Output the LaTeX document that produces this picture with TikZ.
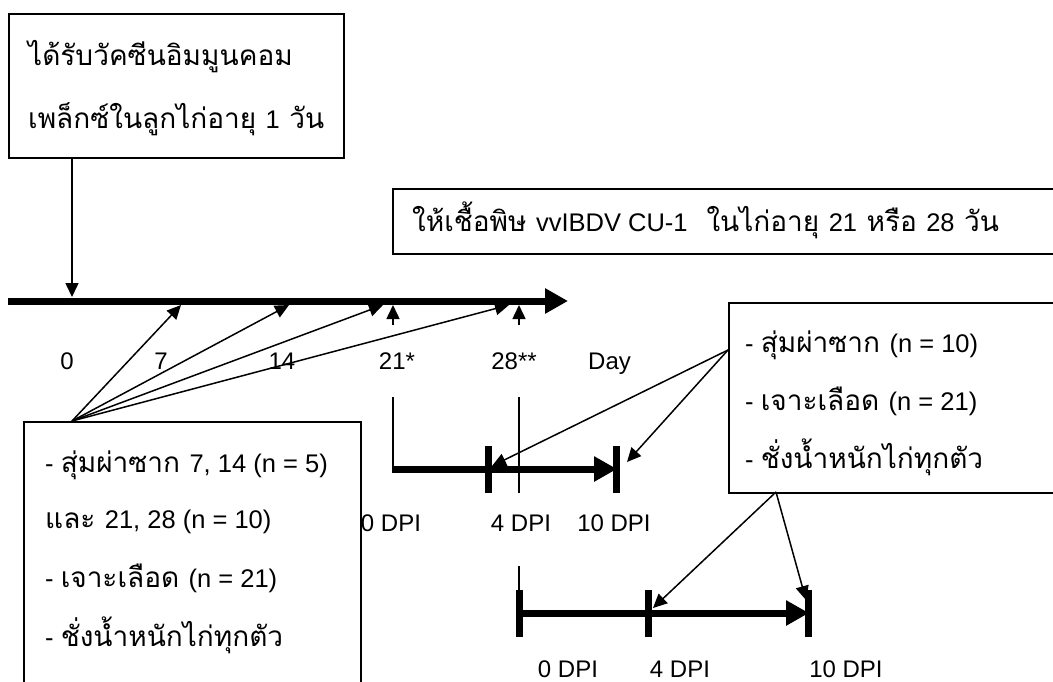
\documentclass[tikz,border=0pt]{standalone}
\usepackage{fontspec}
\setmainfont{Loma}[Script=Thai]
\newfontfamily\latinfont{Liberation Sans}
\newcommand\latn[1]{{\latinfont\fontsize{25.5}{30}\selectfont #1}}
\usetikzlibrary{arrows.meta}
\tikzset{
  box/.style={draw, line width=1.8pt, fill=white, inner sep=0pt, anchor=north west},
  txt/.style={inner sep=0pt, anchor=base west, font=\fontsize{28}{32}\selectfont},
  lbl/.style={inner sep=0pt, anchor=base, font=\latinfont\fontsize{24}{28}\selectfont},
  thin/.style={line width=1.5pt},
  pointer/.style={thin, -{Triangle[length=14pt,width=13pt]}},
  axis/.style={line width=7pt, -{Triangle[length=23pt,width=24pt]}},
  tick/.style={line width=7pt},
}
\begin{document}
\begin{tikzpicture}[x=1pt,y=-1pt]
\useasboundingbox (0,0) rectangle (1053,681);
\clip (0,0) rectangle (1053,681);

% boxes
\node[box, minimum width=335pt, minimum height=144pt] (vacc) at (8,13) {};
\node[txt] (vacc1) at (28,65) {ได้รับวัคซีนอิมมูนคอม};
\node[txt] (vacc2) at (28,128) {เพล็กซ์ในลูกไก่อายุ \latn{1} วัน};

\node[box, minimum width=700pt, minimum height=65pt] (virus) at (392,188) {};
\node[txt] (virus1) at (412,231) {ให้เชื้อพิษ \latn{vvIBDV CU-1}\ \ ในไก่อายุ \latn{21} หรือ \latn{28} วัน};

\node[box, minimum width=337pt, minimum height=300pt] (pre) at (23,421) {};
\node[txt] (pre1) at (45,472) {\latn{- }สุ่มผ่าซาก \latn{7, 14 (n = 5)}};
\node[txt] (pre2) at (45,528) {และ \latn{21, 28 (n = 10)}};
\node[txt] (pre3) at (45,587) {\latn{- }เจาะเลือด \latn{(n = 21)}};
\node[txt] (pre4) at (45,646) {\latn{- }ชั่งน้ำหนักไก่ทุกตัว};

\node[box, minimum width=360pt, minimum height=190pt] (post) at (728,302) {};
\node[txt] (post1) at (745,352) {\latn{- }สุ่มผ่าซาก \latn{(n = 10)}};
\node[txt] (post2) at (745,410) {\latn{- }เจาะเลือด \latn{(n = 21)}};
\node[txt] (post3) at (745,468) {\latn{- }ชั่งน้ำหนักไก่ทุกตัว};

% day axis
\coordinate (t0) at (8,301);
\coordinate (tend) at (568,301);
\draw[axis] (t0) -- (tend);

\node[lbl] (d0) at (67,369) {0};
\node[lbl] (d7) at (161,369) {7};
\node[lbl] (d14) at (282,369) {14};
\node[lbl] (d21) at (397,369) {21*};
\node[lbl] (d28) at (514,369) {28**};
\node[lbl, anchor=base west] (day) at (588,369) {Day};

% vaccination arrow
\coordinate (vaccout) at (72,157);
\coordinate (in0) at (72,297);
\draw[pointer] (vaccout) -- (in0);

% sampling fan
\coordinate (fan) at (72,421);
\coordinate (in7) at (181,305);
\coordinate (in14) at (289,305);
\coordinate (in21) at (383,305);
\coordinate (in28) at (509,305);
\foreach \p in {in7,in14,in21,in28} \draw[pointer] (fan) -- (\p);

% challenge markers
\coordinate (c21) at (393,325);
\coordinate (c21t) at (393,305);
\coordinate (c28) at (519,325);
\coordinate (c28t) at (519,305);
\draw[pointer] (c21) -- (c21t);
\draw[pointer] (c28) -- (c28t);

% DPI axis for challenge at 21 days
\coordinate (a0) at (393,397);
\coordinate (a0b) at (393,469);
\coordinate (a10) at (617,469);
\draw[thin] (a0) -- (a0b);
\draw[axis] ([xshift=-0.75pt]a0b) -- (a10);
\draw[tick] (488,446) -- (488,493);
\draw[tick] (616,446) -- (616,493);
\draw[thin] (519,397) -- (519,493);
\node[lbl] (a0l) at (391,531) {0 DPI};
\node[lbl] (a4l) at (521,531) {4 DPI};
\node[lbl] (a10l) at (614,531) {10 DPI};

% DPI axis for challenge at 28 days
\coordinate (b0top) at (519,566);
\coordinate (b0) at (519,613);
\coordinate (b10) at (809,613);
\draw[thin] (b0top) -- (519,590);
\draw[axis] (b0) -- (b10);
\draw[tick] (519,590) -- (519,637);
\draw[tick] (648,590) -- (648,637);
\draw[tick] (808,590) -- (808,637);
\node[lbl] (b0l) at (568,677) {0 DPI};
\node[lbl] (b4l) at (680,677) {4 DPI};
\node[lbl] (b10l) at (846,677) {10 DPI};

% post-challenge sampling arrows
\coordinate (postl) at (728,350);
\coordinate (postb) at (776,492);
\draw[pointer] (postl) -- (492,466);
\draw[pointer] (postl) -- (627,462);
\draw[pointer] (postb) -- (653,608);
\draw[pointer] (postb) -- (806,600);
\end{tikzpicture}
\end{document}
